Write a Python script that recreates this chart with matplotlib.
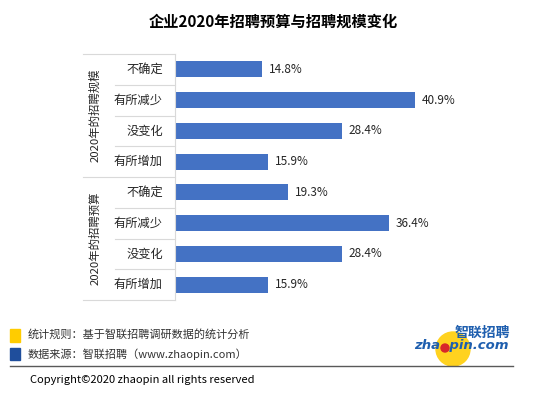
import numpy as np
import matplotlib
matplotlib.use("Agg")
import matplotlib.pyplot as plt
from matplotlib.patches import Rectangle, Ellipse
from matplotlib.lines import Line2D
import matplotlib.transforms as mtransforms

plt.rcParams['font.family'] = ['Noto Sans CJK SC', 'DejaVu Sans']

# data
groups = ['2020年的招聘规模', '2020年的招聘预算']
categories = ['不确定', '有所减少', '没变化', '有所增加']
scale_values = [14.8, 40.9, 28.4, 15.9]
budget_values = [19.3, 36.4, 28.4, 15.9]

W, H = 550, 395
BAR_COLOR = '#4472C4'
GRID = '#D9D9D9'
TEXT = '#262626'


def fx(px):
    return px / W


def fy(py):
    return 1 - py / H


def dot(cx, cy, r, color):
    # round in pixels, so scale the radius per axis
    return Ellipse((fx(cx), fy(cy)), 2 * r / W, 2 * r / H, transform=fig.transFigure,
                   color=color, figure=fig)


fig = plt.figure(figsize=(5.5, 3.95), dpi=100)
fig.patch.set_facecolor('white')

# title
fig.text(fx(273), fy(22), '企业2020年招聘预算与招聘规模变化', ha='center', va='center',
         fontsize=11, fontweight='bold', color='black')

# bar axes
left, top, bottom, right = 175, 54, 300, 500
ax = fig.add_axes([fx(left), fy(bottom), fx(right) - fx(left), (bottom - top) / H])

values = scale_values + budget_values
labels = categories + categories
y = np.arange(len(values))
ax.barh(y, values, height=0.52, color=BAR_COLOR)
ax.set_ylim(len(values) - 0.5, -0.5)
ax.set_xlim(0, (right - left) / 5.87)

for yi, v in zip(y, values):
    ax.text(v + 1.2, yi, f'{v:.1f}%', va='center', ha='left', fontsize=8.5, color=TEXT)

for s in ['top', 'right', 'bottom']:
    ax.spines[s].set_visible(False)
ax.spines['left'].set_color(GRID)
ax.set_xticks([])
ax.set_yticks([])

trans = mtransforms.blended_transform_factory(ax.transAxes, ax.transData)
x_cat = (163 - left) / (right - left)
x_sep = (115 - left) / (right - left)
x_grp = (83 - left) / (right - left)
x_glab = (95 - left) / (right - left)

for yi, lab in zip(y, labels):
    ax.text(x_cat, yi, lab, transform=trans, ha='right', va='center',
            fontsize=8.8, color=TEXT)

# separators inside each group
for g in range(len(groups)):
    for k in range(1, len(categories)):
        yy = g * len(categories) + k - 0.5
        ax.add_line(Line2D([x_sep, 0], [yy, yy], transform=trans, color=GRID,
                           lw=0.8, clip_on=False))
# group boundaries
for yy in [-0.5, len(categories) - 0.5, len(values) - 0.5]:
    ax.add_line(Line2D([x_grp, 0], [yy, yy], transform=trans, color=GRID,
                       lw=0.8, clip_on=False))

for g, name in enumerate(groups):
    yc = g * len(categories) + (len(categories) - 1) / 2
    ax.text(x_glab, yc, name, transform=trans, ha='center', va='center',
            rotation=90, fontsize=8.2, color=TEXT)

# footer
fig.patches.append(Rectangle((fx(10), fy(342)), fx(10), 13 / H, transform=fig.transFigure,
                             color='#FFCC00', figure=fig))
fig.patches.append(Rectangle((fx(10), fy(360)), fx(10), 12 / H, transform=fig.transFigure,
                             color='#1F4E9C', figure=fig))
fig.text(fx(28), fy(334), '统计规则：基于智联招聘调研数据的统计分析', ha='left', va='center',
         fontsize=8, color='#333333')
fig.text(fx(28), fy(354), '数据来源：智联招聘（www.zhaopin.com）', ha='left', va='center',
         fontsize=8, color='#333333')
fig.lines.append(Line2D([fx(10), fx(513)], [fy(366), fy(366)], transform=fig.transFigure,
                        color='#595959', lw=1))
fig.text(fx(30), fy(380), 'Copyright©2020 zhaopin all rights reserved', ha='left',
         va='center', fontsize=8, color='black')

# logo
fig.patches.append(dot(453, 349, 17, '#FFD21F'))
fig.text(fx(461), fy(346), 'zha  pin.com', ha='center', va='center', fontsize=9.5,
         fontweight='bold', fontstyle='italic', color='#1F5FAF', family='DejaVu Sans')
fig.patches.append(dot(445, 348, 4, '#D8262A'))
fig.text(fx(482), fy(333), '智联招聘', ha='center', va='center', fontsize=10,
         fontweight='bold', color='#1F5FAF')

fig.savefig('out.png', dpi=100, facecolor='white')
